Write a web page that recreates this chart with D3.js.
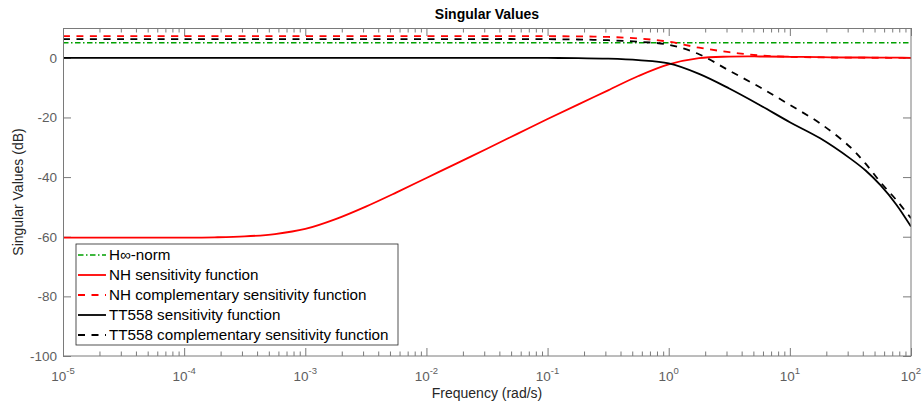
<!DOCTYPE html>
<html>
<head>
<meta charset="utf-8">
<script src="https://cdn.jsdelivr.net/npm/d3@7"></script>
<style>
  body { margin: 0; background: #fff; }
  svg { display: block; font-family: "Liberation Sans", Arial, Helvetica, sans-serif; }
</style>
</head>
<body>
<svg id="chart" width="923" height="403"></svg>
<script>
// Frequency grid (rad/s) shared by the sampled responses
const freq = [1e-5, 3.16e-5, 1e-4, 1.78e-4, 3.16e-4, 5.62e-4, 1e-3, 1.78e-3, 3.16e-3, 5.62e-3,
              1e-2, 1.78e-2, 3.16e-2, 5.62e-2, 0.1, 0.178, 0.316, 0.562, 1, 1.78,
              3.16, 5.62, 10, 17.8, 31.6, 42.2, 56.2, 75, 100];

// Singular values in dB
const nhSensitivity = [-60.3, -60.3, -60.3, -60.2, -59.9, -59.1, -57.4, -54.1, -49.9, -45.2,
                       -40.3, -35.4, -30.5, -25.5, -20.5, -15.7, -10.9, -6.1, -2.2, -0.1,
                       0.4, 0.45, 0.35, 0.2, 0.1, 0.1, 0.05, 0.05, 0.0];
const nhComplementary = [7.3, 7.3, 7.3, 7.3, 7.3, 7.3, 7.3, 7.3, 7.3, 7.3,
                         7.3, 7.3, 7.3, 7.3, 7.25, 7.2, 7.0, 6.5, 5.4, 3.4,
                         1.9, 0.8, 0.35, 0.15, 0.05, 0.03, 0.02, 0.01, 0.0];
const ttSensitivity = [0, 0, 0, 0, 0, 0, 0, 0, 0, 0,
                       0, 0, 0, 0, -0.05, -0.1, -0.3, -0.8, -1.9, -5.4,
                       -10.3, -15.8, -21.6, -27.0, -33.8, -37.8, -42.8, -49.0, -56.6];
const ttComplementary = [6.3, 6.3, 6.3, 6.3, 6.3, 6.3, 6.3, 6.3, 6.3, 6.3,
                         6.3, 6.3, 6.3, 6.3, 6.25, 6.15, 5.9, 5.4, 4.4, 1.2,
                         -4.3, -9.8, -15.8, -22.0, -30.0, -35.5, -41.8, -47.5, -53.8];

// H-infinity norm bound
const hinfFreq = [1e-5, 100];
const hinfValues = [5.05, 5.05];

// Axis ticks
const xTickValues = [1e-5, 1e-4, 1e-3, 1e-2, 1e-1, 1e0, 1e1, 1e2];
const xTickExponents = ["-5", "-4", "-3", "-2", "-1", "0", "1", "2"];
const yTickValues = [-100, -80, -60, -40, -20, 0];

const seriesNames = ["H\u221E-norm", "NH sensitivity function", "NH complementary sensitivity function",
                     "TT558 sensitivity function", "TT558 complementary sensitivity function"];

const plot = { left: 63, right: 911, top: 28, bottom: 356 };

const svg = d3.select("#chart");
const x = d3.scaleLog().domain([1e-5, 1e2]).range([plot.left, plot.right]);
const y = d3.scaleLinear().domain([-100, 10]).range([plot.bottom, plot.top]);

const axisColor = "#7a7a7a";
const labelColor = "#5e5e5e";

// Curve styles
const styles = [
  { color: "#00a000", dash: "5.5,2.5,1.5,2.5", width: 1.7 },
  { color: "#ff0000", dash: null, width: 1.8 },
  { color: "#ff0000", dash: "7,6.5", width: 1.8 },
  { color: "#000000", dash: null, width: 1.8 },
  { color: "#000000", dash: "7,6.5", width: 1.8 }
];

const seriesData = [
  hinfFreq.map((f, i) => [f, hinfValues[i]]),
  freq.map((f, i) => [f, nhSensitivity[i]]),
  freq.map((f, i) => [f, nhComplementary[i]]),
  freq.map((f, i) => [f, ttSensitivity[i]]),
  freq.map((f, i) => [f, ttComplementary[i]])
];

svg.append("defs").append("clipPath").attr("id", "plot-clip")
  .append("rect")
  .attr("x", plot.left).attr("y", plot.top)
  .attr("width", plot.right - plot.left).attr("height", plot.bottom - plot.top);

// Plot background
svg.append("rect")
  .attr("x", plot.left).attr("y", plot.top)
  .attr("width", plot.right - plot.left).attr("height", plot.bottom - plot.top)
  .attr("fill", "#fff");

// Ticks on all four sides, pointing inward
const minorX = x.ticks().filter(v => !xTickValues.some(t => Math.abs(Math.log10(v) - Math.log10(t)) < 1e-9));
const tickG = svg.append("g").attr("stroke", axisColor).attr("stroke-width", 1);
function drawTicks(axis, transform) {
  const g = tickG.append("g").attr("transform", transform).call(axis);
  g.select(".domain").remove();
  g.selectAll("line").attr("stroke", axisColor);
  g.selectAll("text").remove();
}
drawTicks(d3.axisBottom(x).tickValues(xTickValues).tickSize(-8), `translate(0,${plot.bottom})`);
drawTicks(d3.axisTop(x).tickValues(xTickValues).tickSize(-8), `translate(0,${plot.top})`);
drawTicks(d3.axisBottom(x).tickValues(minorX).tickSize(-4.5), `translate(0,${plot.bottom})`);
drawTicks(d3.axisTop(x).tickValues(minorX).tickSize(-4.5), `translate(0,${plot.top})`);
drawTicks(d3.axisLeft(y).tickValues(yTickValues).tickSize(-8), `translate(${plot.left},0)`);
drawTicks(d3.axisRight(y).tickValues(yTickValues).tickSize(-8), `translate(${plot.right},0)`);

// Curves
const line = d3.line()
  .x(d => x(d[0]))
  .y(d => y(d[1]))
  .curve(d3.curveCatmullRom.alpha(0.5));

const curves = svg.append("g").attr("clip-path", "url(#plot-clip)");
seriesData.forEach((data, i) => {
  curves.append("path")
    .datum(data)
    .attr("d", line)
    .attr("fill", "none")
    .attr("stroke", styles[i].color)
    .attr("stroke-width", styles[i].width)
    .attr("stroke-dasharray", styles[i].dash)
    .attr("stroke-linejoin", "round");
});

// Plot box
svg.append("rect")
  .attr("x", plot.left + 0.5).attr("y", plot.top + 0.5)
  .attr("width", plot.right - plot.left - 0.5).attr("height", plot.bottom - plot.top - 0.5)
  .attr("fill", "none").attr("stroke", axisColor).attr("stroke-width", 1);

// Y tick labels
svg.append("g").selectAll("text")
  .data(yTickValues)
  .join("text")
  .attr("x", plot.left - 6)
  .attr("y", d => y(d))
  .attr("dy", "0.36em")
  .attr("text-anchor", "end")
  .attr("font-size", 13.5)
  .attr("fill", labelColor)
  .text(d => d);

// X tick labels: 10 with superscript exponent
const xl = svg.append("g").selectAll("text")
  .data(xTickValues)
  .join("text")
  .attr("x", d => x(d))
  .attr("y", 381)
  .attr("text-anchor", "middle")
  .attr("font-size", 13.5)
  .attr("fill", labelColor);
xl.append("tspan").text("10");
xl.append("tspan")
  .attr("dy", -7)
  .attr("font-size", 9.5)
  .text((d, i) => xTickExponents[i]);

// Axis titles
svg.append("text")
  .attr("x", (plot.left + plot.right) / 2)
  .attr("y", 398)
  .attr("text-anchor", "middle")
  .attr("font-size", 14)
  .attr("fill", "#262626")
  .text("Frequency (rad/s)");

svg.append("text")
  .attr("transform", `translate(23,${(plot.top + plot.bottom) / 2}) rotate(-90)`)
  .attr("text-anchor", "middle")
  .attr("font-size", 14)
  .attr("fill", "#262626")
  .text("Singular Values (dB)");

svg.append("text")
  .attr("x", (plot.left + plot.right) / 2)
  .attr("y", 19)
  .attr("text-anchor", "middle")
  .attr("font-size", 14)
  .attr("font-weight", "bold")
  .attr("fill", "#000")
  .text("Singular Values");

// Legend
const legend = svg.append("g").attr("transform", "translate(76,244)");
legend.append("rect")
  .attr("x", 0).attr("y", 0)
  .attr("width", 322).attr("height", 101)
  .attr("fill", "#fff")
  .attr("stroke", "#262626")
  .attr("stroke-width", 0.8);
seriesNames.forEach((name, i) => {
  const row = legend.append("g").attr("transform", `translate(0,${11 + i * 20})`);
  row.append("line")
    .attr("x1", 2).attr("x2", 30)
    .attr("y1", 0).attr("y2", 0)
    .attr("stroke", styles[i].color)
    .attr("stroke-width", styles[i].width)
    .attr("stroke-dasharray", styles[i].dash);
  row.append("text")
    .attr("x", 33)
    .attr("y", 0)
    .attr("dy", "0.36em")
    .attr("font-size", 15.2)
    .attr("fill", "#000")
    .text(name);
});
</script>
</body>
</html>
